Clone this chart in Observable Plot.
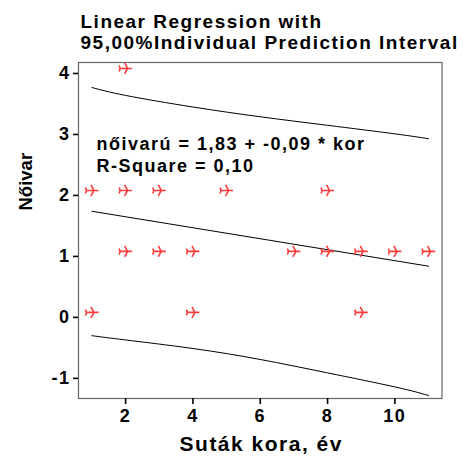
<!DOCTYPE html>
<html>
<head>
<meta charset="utf-8">
<script src="https://cdn.jsdelivr.net/npm/d3@7"></script>
<script src="https://cdn.jsdelivr.net/npm/@observablehq/plot@0.6"></script>
<style>
  html, body { margin: 0; padding: 0; background: #fff; }
  #chart svg { display: block; }
</style>
</head>
<body>
<div id="chart"></div>
<script>
// Observed points (Suták kora, év  vs  Nőivar)
const pointX = [1, 2, 3, 5, 8, 2, 3, 4, 7, 8, 9, 10, 11, 1, 4, 9, 2];
const pointY = [2, 2, 2, 2, 2, 1, 1, 1, 1, 1, 1, 1, 1, 0, 0, 0, 4];

// Fitted line endpoints (nőivarú = 1,83 + -0,09 * kor)
const fitX = [1, 11];
const fitY = [1.74, 0.84];

// 95% individual prediction interval
const piX     = [1, 2, 4, 6, 8, 10, 11];
const piUpper = [3.77, 3.64, 3.45, 3.29, 3.15, 3.01, 2.93];
const piLower = [-0.30, -0.37, -0.51, -0.69, -0.91, -1.14, -1.28];

const xTicks = [2, 4, 6, 8, 10];
const yTicks = [-1, 0, 1, 2, 3, 4];

const titleText = "Linear Regression with\n95,00%Individual Prediction Interval";
const equationText = "nőivarú = 1,83 + -0,09 * kor\nR-Square = 0,10";
const xLabel = "Suták kora, év";
const yLabel = "Nőivar";

const points = pointX.map((x, i) => ({x, y: pointY[i]}));
const fit = fitX.map((x, i) => ({x, y: fitY[i]}));
const upper = piX.map((x, i) => ({x, y: piUpper[i]}));
const lower = piX.map((x, i) => ({x, y: piLower[i]}));

const airplane = {
  draw(ctx, size) {
    ctx.moveTo(-6.5, 0); ctx.lineTo(6.5, 0);
    ctx.moveTo(-1, -5.5); ctx.lineTo(2, 0); ctx.lineTo(-1, 5.5);
    ctx.moveTo(-6.5, -3); ctx.lineTo(-5.5, 0); ctx.lineTo(-6.5, 3);
  }
};

const font = "Liberation Sans, Arial, sans-serif";

const chart = Plot.plot({
  width: 463,
  height: 459,
  marginLeft: 78,
  marginRight: 21.5,
  marginTop: 62,
  marginBottom: 61,
  style: {fontFamily: font, background: "#fff", color: "#000", letterSpacing: "1.5px"},
  x: {domain: [0.6, 11.4]},
  y: {domain: [-1.33, 4.18]},
  marks: [
    Plot.frame({stroke: "#666", strokeWidth: 1.2}),
    Plot.axisX({ticks: xTicks, tickSize: 6, tickPadding: 5, tickFormat: d => String(d),
      label: null, fontSize: 18, fontWeight: "bold", strokeWidth: 1.6}),
    Plot.axisY({ticks: yTicks, tickSize: 5, tickPadding: 3, tickFormat: d => String(d),
      label: null, fontSize: 18, fontWeight: "bold", strokeWidth: 1.6}),
    Plot.line(upper, {x: "x", y: "y", curve: "natural", stroke: "#000", strokeWidth: 1}),
    Plot.line(fit, {x: "x", y: "y", stroke: "#000", strokeWidth: 1}),
    Plot.line(lower, {x: "x", y: "y", curve: "natural", stroke: "#000", strokeWidth: 1}),
    Plot.dot(points, {x: "x", y: "y", symbol: airplane, r: 6, stroke: "#ff3b3b", fill: "none", strokeWidth: 1.6, dy: -5}),
    Plot.text([equationText], {frameAnchor: "top-left", dx: 18, dy: 72, lineAnchor: "top",
      textAnchor: "start", fontSize: 18, fontWeight: "bold", lineHeight: 1.22, fill: "#000"}),
    Plot.text([titleText], {frameAnchor: "top-left", dx: 2, dy: -49, lineAnchor: "top",
      textAnchor: "start", fontSize: 19, fontWeight: "bold", lineHeight: 1.1, fill: "#000"}),
    Plot.text([xLabel], {frameAnchor: "bottom", dx: 1, dy: 38, lineAnchor: "top",
      fontSize: 21, fontWeight: "bold", fill: "#000"}),
    Plot.text([yLabel], {frameAnchor: "left", dx: -52, dy: -20, rotate: -90,
      fontSize: 18.5, fontWeight: "bold", fill: "#000"})
  ]
});

d3.select(chart).selectAll("text").filter(function() { return this.textContent === yLabel; })
  .attr("letter-spacing", "0px");

document.getElementById("chart").appendChild(chart);
</script>
</body>
</html>
